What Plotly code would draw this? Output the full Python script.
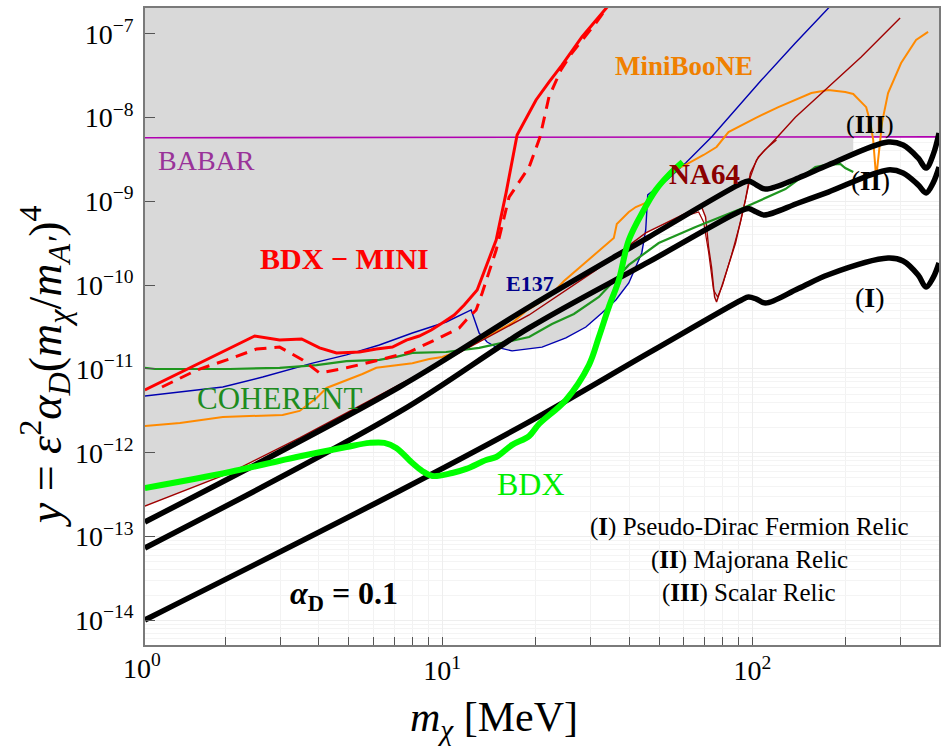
import plotly.graph_objects as go

# ---------------- data ----------------
# Relic targets (alpha_D = 0.1)
relic_I_x = [1.10, 7.27, 19.05, 46.3, 92.2, 97.1, 103.0, 110.1, 140.6, 175.5, 273.6, 305.9, 342.0, 362.8, 382.0, 399.4]
relic_I_y = [1.01e-14, 3.49e-13, 2.33e-12, 1.55e-11, 6.64e-11, 7.21e-11, 6.82e-11, 6.11e-11, 9.1e-11, 1.33e-10, 2.10e-10, 1.94e-10, 1.32e-10, 9.48e-11, 1.22e-10, 1.84e-10]

relic_II_x = [1.10, 7.27, 19.05, 46.3, 90.2, 97.1, 103.0, 109.3, 140.6, 175.5, 273.6, 305.9, 342.0, 362.8, 382.0, 399.4]
relic_II_y = [7.29e-14, 3.06e-12, 3.08e-11, 1.89e-10, 7.45e-10, 8.20e-10, 7.45e-10, 6.87e-10, 9.55e-10, 1.29e-9, 2.37e-9, 2.18e-9, 1.57e-9, 1.26e-9, 1.65e-9, 2.56e-9]

relic_III_x = [1.10, 7.27, 19.05, 46.3, 90.2, 97.1, 103.0, 110.1, 140.6, 175.5, 273.6, 305.9, 342.0, 362.8, 382.0, 399.4]
relic_III_y = [1.49e-13, 6.08e-12, 5.48e-11, 3.75e-10, 1.57e-9, 1.75e-9, 1.57e-9, 1.40e-9, 1.90e-9, 2.71e-9, 5.10e-9, 4.70e-9, 3.29e-9, 2.49e-9, 3.57e-9, 6.53e-9]

# BABAR
babar_x = [1.10, 100.0, 399.4]
babar_y = [5.74e-9, 5.78e-9, 5.88e-9]

# BDX-MINI (solid and dashed)
bdxmini_x = [1.10, 2.486, 2.991, 3.521, 4.022, 4.562, 5.41, 6.13, 6.91, 7.66, 8.43, 9.22, 10.0, 10.93, 11.77, 12.96, 14.92, 16.06, 17.43, 20.06, 22.08, 24.31, 28.20, 34.44]
bdxmini_y = [5.60e-12, 2.47e-11, 2.21e-11, 2.28e-11, 1.78e-11, 1.55e-11, 1.59e-11, 1.73e-11, 1.82e-11, 2.21e-11, 2.47e-11, 2.91e-11, 3.53e-11, 4.40e-11, 5.79e-11, 8.75e-11, 3.45e-10, 1.26e-9, 6.18e-9, 1.62e-8, 2.65e-8, 4.23e-8, 9.14e-8, 2.20e-7]

bdxmini_dash_x = [1.249, 1.618, 2.021, 2.523, 2.991, 3.547, 4.022, 4.913, 6.27, 7.83, 9.78, 11.34, 11.95, 12.86, 13.45, 14.92, 16.42, 19.05, 20.66, 22.08, 24.13, 26.18, 31.27, 34.44]
bdxmini_dash_y = [6.08e-12, 9.70e-12, 1.28e-11, 1.73e-11, 1.82e-11, 1.28e-11, 8.93e-12, 1.03e-11, 1.28e-11, 1.59e-11, 2.34e-11, 3.08e-11, 3.84e-11, 5.05e-11, 8.05e-11, 2.62e-10, 1.12e-9, 2.56e-9, 5.85e-9, 1.76e-8, 3.69e-8, 5.89e-8, 1.34e-7, 2.20e-7]

# E137
e137_x = [1.10, 1.962, 2.638, 3.819, 4.913, 6.27, 8.01, 10.30, 12.39, 13.15, 13.95, 14.92, 16.80, 19.05, 20.97, 25.04, 29.04, 32.70, 36.27, 39.94, 43.97, 45.28, 45.96, 52.90, 60.90, 73.8, 88.2, 106.9, 137.5, 180.8]
e137_y = [4.75e-12, 6.08e-12, 8.01e-12, 1.17e-11, 1.47e-11, 1.93e-11, 2.68e-11, 3.63e-11, 5.05e-11, 2.68e-11, 2.09e-11, 1.82e-11, 1.64e-11, 1.73e-11, 1.82e-11, 2.34e-11, 3.16e-11, 4.65e-11, 6.64e-11, 1.06e-10, 2.42e-10, 4.55e-10, 1.19e-9, 1.79e-9, 2.86e-9, 5.85e-9, 1.23e-8, 2.80e-8, 7.74e-8, 2.26e-7]

# COHERENT
coherent_x = [1.10, 1.186, 2.066, 2.991, 3.934, 4.913, 6.27, 7.11, 8.01, 10.30, 13.15, 16.80, 19.05, 22.58, 26.57, 31.98, 39.94, 49.86, 65.58, 94.9, 127.7, 159.5, 171.7, 191.9, 199.1, 211.3]
coherent_y = [1.03e-11, 9.97e-12, 9.97e-12, 1.03e-11, 1.11e-11, 1.24e-11, 1.28e-11, 1.39e-11, 1.55e-11, 1.59e-11, 1.78e-11, 2.15e-11, 2.40e-11, 3.44e-11, 4.52e-11, 7.21e-11, 1.74e-10, 3.18e-10, 4.93e-10, 8.55e-10, 1.40e-9, 2.56e-9, 2.71e-9, 2.79e-9, 2.49e-9, 2.24e-9]

# MiniBooNE
miniboone_x = [1.10, 1.427, 1.962, 3.058, 3.469, 3.934, 4.236, 4.770, 5.53, 6.13, 7.11, 8.01, 9.08, 10.0, 11.60, 13.45, 15.25, 16.80, 18.63, 22.08, 24.68, 31.27, 34.95, 35.73, 36.53, 39.94, 42.06, 45.28, 48.76, 54.90, 62.27, 69.57, 76.6, 83.7, 102.2, 121.2, 154.8, 175.5, 199.1, 211.3, 232.6, 239.6, 245.0, 250.5, 256.1, 261.8, 273.6, 301.4, 336.8, 368.2]
miniboone_y = [2.08e-12, 2.26e-12, 2.67e-12, 2.82e-12, 3.15e-12, 4.50e-12, 5.92e-12, 6.98e-12, 8.69e-12, 1.03e-11, 1.11e-11, 1.17e-11, 1.31e-11, 1.39e-11, 1.68e-11, 2.28e-11, 2.91e-11, 3.53e-11, 4.91e-11, 7.21e-11, 1.12e-10, 2.42e-10, 3.45e-10, 3.65e-10, 5.36e-10, 7.45e-10, 8.55e-10, 9.55e-10, 1.36e-9, 2.24e-9, 2.86e-9, 3.57e-9, 4.45e-9, 6.71e-9, 9.86e-9, 1.33e-8, 1.96e-8, 2.13e-8, 2.01e-8, 1.91e-8, 1.33e-8, 8.83e-9, 5.40e-9, 1.90e-9, 4.09e-9, 8.83e-9, 1.96e-8, 4.47e-8, 8.41e-8, 1.05e-7]

# NA64 (two close curves)
na64_x = [1.10, 2.066, 3.469, 7.27, 10.0, 19.05, 31.27, 45.28, 57.82, 67.06, 68.55, 70.6, 72.2, 73.8, 75.5, 76.6, 79.5, 88.2, 94.9, 98.5, 104.5, 112.6, 119.5, 137.5, 175.5, 224.1, 299.2]
na64_y = [2.31e-13, 5.73e-13, 1.50e-12, 6.43e-12, 1.21e-11, 4.40e-11, 1.51e-10, 4.19e-10, 6.50e-10, 8.55e-10, 8.55e-10, 6.50e-10, 2.85e-10, 1.64e-10, 7.21e-11, 6.28e-11, 9.48e-11, 3.18e-10, 1.04e-9, 2.18e-9, 3.38e-9, 4.45e-9, 5.69e-9, 1.01e-8, 2.31e-8, 5.27e-8, 1.54e-7]
na64b_x = [51.7, 62.27, 67.06, 69.57, 72.2, 74.9, 77.2, 80.1, 85.6, 91.5, 95.7, 98.5, 103.0, 109.3, 119.5]
na64b_y = [4.93e-10, 6.87e-10, 7.45e-10, 5.66e-10, 2.48e-10, 8.75e-11, 7.21e-11, 1.00e-10, 2.29e-10, 5.66e-10, 1.19e-9, 1.95e-9, 3.11e-9, 4.09e-9, 5.40e-9]

# BDX
bdx_x = [1.10, 2.066, 3.392, 4.913, 5.83, 6.51, 7.11, 8.01, 8.62, 9.29, 10.77, 11.95, 13.85, 14.92, 16.80, 19.05, 20.51, 25.04, 29.70, 31.98, 34.44, 37.08, 39.94, 44.62, 48.76, 53.70, 59.56]
bdx_y = [3.79e-13, 5.89e-13, 8.89e-13, 1.17e-12, 1.31e-12, 1.31e-12, 1.14e-12, 7.53e-13, 6.05e-13, 5.27e-13, 5.73e-13, 6.40e-13, 8.18e-13, 8.89e-13, 1.24e-12, 1.58e-12, 2.20e-12, 4.26e-12, 1.11e-11, 2.40e-11, 5.48e-11, 1.15e-10, 3.45e-10, 7.87e-10, 1.36e-9, 2.06e-9, 2.94e-9]

# Excluded (grey) region outline
excluded_x = [1.0, 450.0, 450.0, 211.3, 211.3, 175.5, 140.6, 110.1, 103.0, 97.8, 94.9, 88.2, 79.5, 76.6, 75.5, 73.8, 72.2, 70.6, 68.55, 67.06, 57.82, 45.28, 43.97, 39.94, 36.27, 32.70, 29.04, 25.04, 20.97, 19.05, 16.80, 14.92, 13.65, 10.0, 7.27, 3.469, 2.066, 1.10, 1.0]
excluded_y = [3e-7, 3e-7, 5.85e-9, 5.85e-9, 3.48e-9, 2.71e-9, 1.90e-9, 1.40e-9, 1.57e-9, 1.75e-9, 1.04e-9, 3.18e-10, 9.48e-11, 6.28e-11, 7.21e-11, 1.64e-10, 2.85e-10, 6.50e-10, 8.55e-10, 8.55e-10, 6.50e-10, 4.19e-10, 2.42e-10, 1.06e-10, 6.64e-11, 4.65e-11, 3.16e-11, 2.34e-11, 1.82e-11, 1.73e-11, 1.64e-11, 1.82e-11, 2.28e-11, 1.21e-11, 6.43e-12, 1.50e-12, 5.73e-13, 2.31e-13, 2.0e-13]

x_tick_vals = [10, 100]
x_tick_text = ["10<sup>1</sup>", "10<sup>2</sup>"]
x_minor_vals = [2, 3, 4, 5, 6, 7, 8, 9, 20, 30, 40, 50, 60, 70, 80, 90, 200, 300]
y_tick_vals = [1e-14, 1e-13, 1e-12, 1e-11, 1e-10, 1e-9, 1e-8, 1e-7]
y_tick_text = ["10<sup>−14</sup>", "10<sup>−13</sup>", "10<sup>−12</sup>", "10<sup>−11</sup>",
               "10<sup>−10</sup>", "10<sup>−9</sup>", "10<sup>−8</sup>", "10<sup>−7</sup>"]
y_minor_vals = [m * 10.0 ** e for e in range(-15, -6) for m in range(2, 10)]

# ---------------- figure ----------------
FONT = "Liberation Serif, DejaVu Serif, serif"
fig = go.Figure()

def line(x, y, color, width, dash=None, shape="linear"):
    fig.add_trace(go.Scatter(x=x, y=y, mode="lines", hoverinfo="skip",
                             line=dict(color=color, width=width, dash=dash, shape=shape)))

fig.add_trace(go.Scatter(x=excluded_x, y=excluded_y, mode="lines", fill="toself",
                         fillcolor="#d9d9d9", line=dict(width=0), hoverinfo="skip"))

line(babar_x, babar_y, "#b000b0", 1.6)
line(e137_x, e137_y, "#0000b0", 1.4)
line(miniboone_x, miniboone_y, "#ff8a00", 2.0)
line(na64_x, na64_y, "#a00000", 1.4)
line(na64b_x, na64b_y, "#a00000", 1.2)
line(coherent_x, coherent_y, "#1f961f", 2.2)
line(relic_III_x, relic_III_y, "black", 5.5, shape="spline")
line(relic_II_x, relic_II_y, "black", 5.5, shape="spline")
line(relic_I_x, relic_I_y, "black", 5.5, shape="spline")
line(bdx_x, bdx_y, "#00ff00", 6, shape="spline")
line(bdxmini_x, bdxmini_y, "#ff0000", 3)
line(bdxmini_dash_x, bdxmini_dash_y, "#ff0000", 3, dash="12px,8px")

def ann(text, px, py, size, color="black", **kw):
    fig.add_annotation(text=text, x=(px - 145) / 796, y=(645 - py) / 637,
                       xref="paper", yref="paper", showarrow=False,
                       xanchor="center", yanchor="middle",
                       font=dict(family=FONT, size=size, color=color), **kw)

ann("BABAR", 207, 160, 28, "#993399")
ann("<b>BDX − MINI</b>", 345, 258, 30, "#ff0000")
ann("<b>E137</b>", 531, 283, 22, "#00008b")
ann("<b>MiniBooNE</b>", 685, 66, 27, "#f08000")
ann("<b>NA64</b>", 706, 174, 29, "#8b0000")
ann("(<b>III</b>)", 872, 125, 26)
ann("(<b>II</b>)", 872, 181, 27)
ann("(<b>I</b>)", 872, 297, 28)
ann("COHERENT", 280, 398, 31, "#1e8c1e")
ann("BDX", 532, 484, 32, "#00ee00")
ann("(<b>I</b>) Pseudo-Dirac Fermion Relic", 751, 527, 25)
ann("(<b>II</b>) Majorana Relic", 751, 560, 25)
ann("(<b>III</b>) Scalar Relic", 751, 593, 25)
ann("<b><i>α</i><sub>D</sub> = 0.1</b>", 344, 595, 32)
ann("10<sup>0</sup>", 142, 666, 28)
# axis titles
ann("<i>y</i> = <i>ε</i><sup>2</sup><i>α</i><sub><i>D</i></sub>(<i>m</i><sub><i>χ</i></sub>/<i>m</i><sub><i>A′</i></sub>)<sup>4</sup>",
    44, 366, 46, textangle=-90)
ann("<i>m</i><sub><i>χ</i></sub> [MeV]", 495, 720, 42)

axis_common = dict(showline=True, linecolor="#7a7a7a", linewidth=1.5, mirror=True,
                   ticks="inside", tickcolor="#555555", zeroline=False,
                   showgrid=True, gridcolor="#eeeeee", gridwidth=1,
                   tickfont=dict(family=FONT, size=28, color="black"))

fig.update_layout(
    width=942, height=747,
    margin=dict(l=145, r=1, t=8, b=102),
    paper_bgcolor="white", plot_bgcolor="white",
    showlegend=False,
    font=dict(family=FONT),
    xaxis=dict(type="log", range=[0.0418, 2.6013], tickvals=x_tick_vals, ticktext=x_tick_text,
               ticklen=8,
               minor=dict(tickvals=x_minor_vals, ticks="inside", ticklen=8, tickcolor="#555555",
                          showgrid=True, gridcolor="#f2f2f2"),
               **axis_common),
    yaxis=dict(type="log", range=[-14.295, -6.693], tickvals=y_tick_vals, ticktext=y_tick_text,
               ticklen=10, ticklabelstandoff=4,
               minor=dict(tickvals=y_minor_vals, ticks="", showgrid=True, gridcolor="#f4f4f4"),
               **axis_common),
)

fig.write_html("out.html", config={"displayModeBar": False},
               post_script="document.body.style.margin='0px';document.body.style.overflow='hidden';")
